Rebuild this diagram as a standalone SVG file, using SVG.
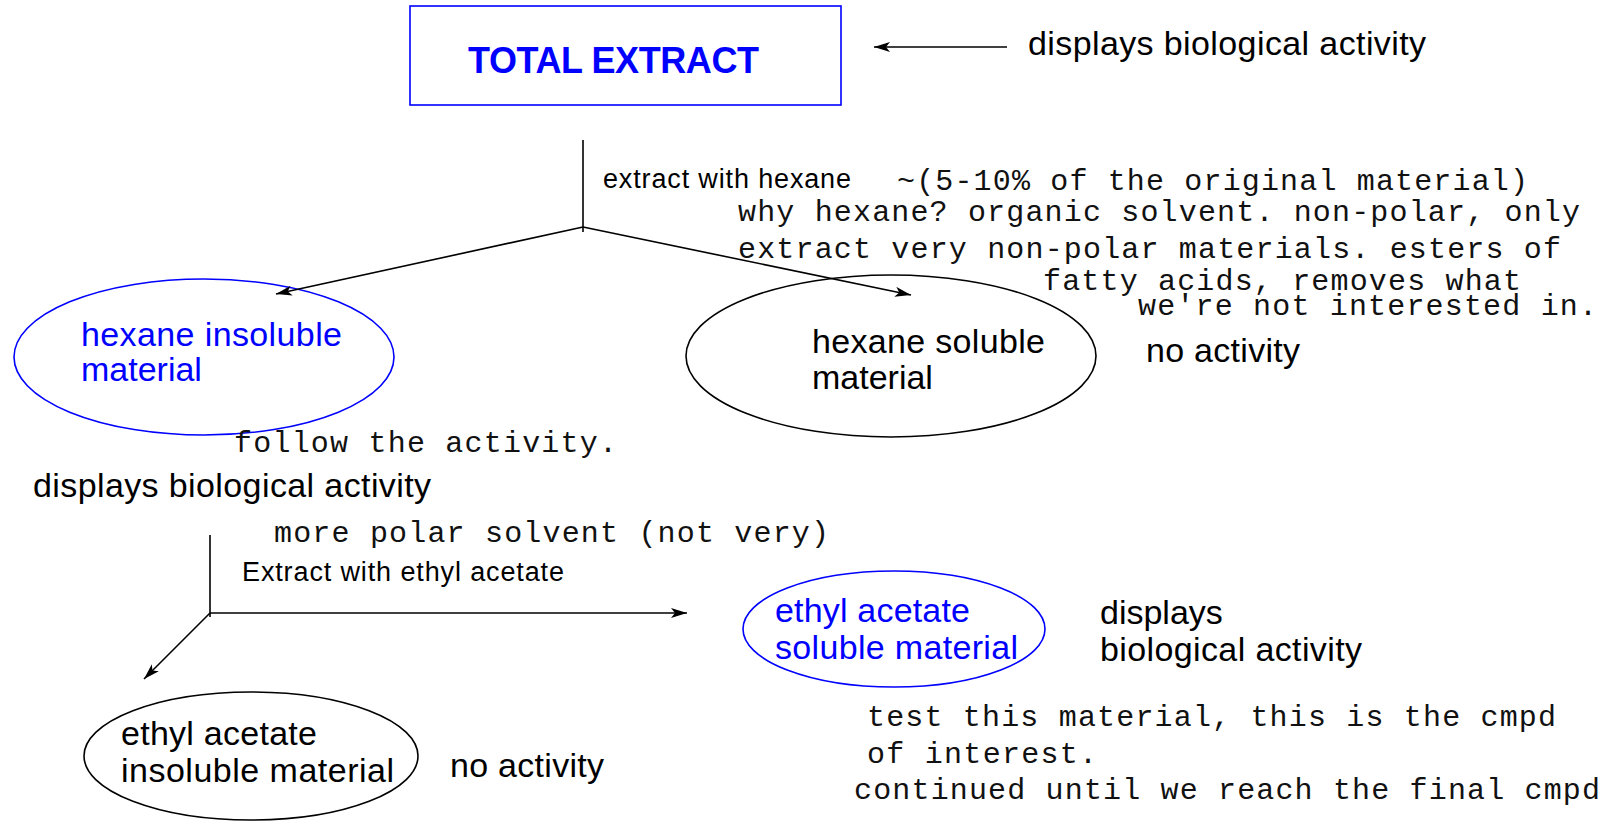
<svg xmlns="http://www.w3.org/2000/svg" width="1612" height="821" viewBox="0 0 1612 821">
  <style>
    .sans { font-family: "Liberation Sans", Arial, sans-serif; }
    .mono { font-family: "Liberation Mono", "Courier New", monospace; font-size: 30px; fill: #111; }
    .big { font-size: 34px; }
    .small { font-size: 27px; }
    .blue { fill: #0000ff; }
    .black { fill: #000; }
    .conn { stroke: #000; stroke-width: 1.6; fill: none; }
    .shape-blue { stroke: #0000ff; stroke-width: 1.6; fill: #fff; }
    .shape-black { stroke: #000; stroke-width: 1.6; fill: #fff; }
  </style>
  <defs>
    <marker id="arr" viewBox="0 0 16 10" refX="16" refY="5" markerWidth="16" markerHeight="10" markerUnits="userSpaceOnUse" orient="auto">
      <path d="M0,0 L16,5 L0,10 L4,5 z" fill="#000"/>
    </marker>
  </defs>
  <rect width="1612" height="821" fill="#fff"/>

  <!-- nodes -->
  <g id="total-extract">
    <rect x="410" y="6" width="431" height="99" class="shape-blue" stroke-width="2"/>
    <text x="468" y="73" class="sans blue" font-size="36" font-weight="bold" textLength="291">TOTAL EXTRACT</text>
  </g>

  <g id="hexane-insoluble">
    <ellipse cx="204" cy="357" rx="190" ry="78" class="shape-blue"/>
    <text x="81" y="346" class="sans big blue" textLength="261">hexane insoluble</text>
    <text x="81" y="381" class="sans big blue">material</text>
  </g>

  <g id="hexane-soluble">
    <ellipse cx="891" cy="356" rx="205" ry="81" class="shape-black"/>
    <text x="812" y="353" class="sans big black" textLength="233">hexane soluble</text>
    <text x="812" y="389" class="sans big black">material</text>
  </g>

  <g id="ethyl-acetate-soluble">
    <ellipse cx="894" cy="629" rx="151" ry="58" class="shape-blue"/>
    <text x="775" y="622" class="sans big blue" textLength="195">ethyl acetate</text>
    <text x="775" y="659" class="sans big blue" textLength="243">soluble material</text>
  </g>

  <g id="ethyl-acetate-insoluble">
    <ellipse cx="251" cy="756" rx="167" ry="64" class="shape-black"/>
    <text x="121" y="745" class="sans big black" textLength="196">ethyl acetate</text>
    <text x="121" y="782" class="sans big black" textLength="273">insoluble material</text>
  </g>

  <!-- connectors -->
  <g id="connectors">
    <line x1="1007" y1="47" x2="874" y2="47" class="conn" marker-end="url(#arr)"/>
    <line x1="583" y1="140" x2="583" y2="232" class="conn"/>
    <line x1="583" y1="227" x2="276" y2="294" class="conn" marker-end="url(#arr)"/>
    <line x1="583" y1="227" x2="911" y2="295" class="conn" marker-end="url(#arr)"/>
    <line x1="210" y1="535" x2="210" y2="617" class="conn"/>
    <line x1="210" y1="613" x2="687" y2="613" class="conn" marker-end="url(#arr)"/>
    <line x1="210" y1="613" x2="144" y2="679" class="conn" marker-end="url(#arr)"/>
  </g>

  <!-- labels -->
  <g id="labels">
    <text x="1028" y="55" class="sans big black" textLength="398">displays biological activity</text>
    <text x="603" y="188" class="sans small black" textLength="248">extract with hexane</text>
    <text x="1146" y="362" class="sans big black" textLength="154">no activity</text>
    <text x="33" y="497" class="sans big black" textLength="398">displays biological activity</text>
    <text x="242" y="581" class="sans small black" textLength="322">Extract with ethyl acetate</text>
    <text x="1100" y="624" class="sans big black">displays</text>
    <text x="1100" y="661" class="sans big black" textLength="262">biological activity</text>
    <text x="450" y="777" class="sans big black" textLength="154">no activity</text>
  </g>

  <!-- notes -->
  <g id="notes">
    <text x="897" y="190" class="mono" textLength="631">~(5-10% of the original material)</text>
    <text x="738" y="221" class="mono" textLength="842">why hexane? organic solvent. non-polar, only</text>
    <text x="738" y="258" class="mono" textLength="823">extract very non-polar materials. esters of</text>
    <text x="1043" y="290" class="mono" textLength="478">fatty acids, removes what</text>
    <text x="1138" y="315" class="mono" textLength="459">we're not interested in.</text>
    <text x="234" y="452" class="mono" textLength="383">follow the activity.</text>
    <text x="274" y="542" class="mono" textLength="555">more polar solvent (not very)</text>
    <text x="867" y="726" class="mono" textLength="689">test this material, this is the cmpd</text>
    <text x="867" y="763" class="mono" textLength="230">of interest.</text>
    <text x="854" y="799" class="mono" textLength="746">continued until we reach the final cmpd</text>
  </g>
</svg>
